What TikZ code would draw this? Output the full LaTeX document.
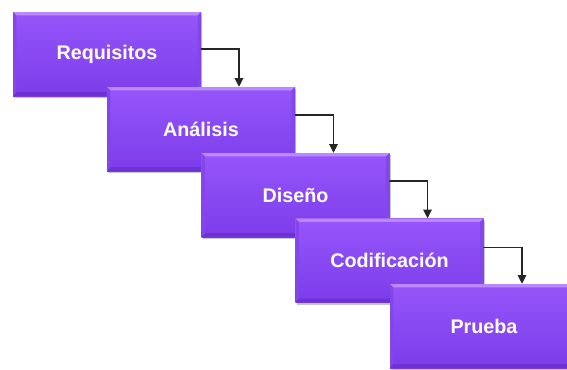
\documentclass[tikz,border=0pt]{standalone}
\usepackage{fontspec}
\setmainfont{Liberation Sans}
\usetikzlibrary{arrows.meta,shadows}

\definecolor{fasetop}{RGB}{150,86,250}
\definecolor{fasebottom}{RGB}{124,60,234}
\definecolor{faselight}{RGB}{188,136,255}
\definecolor{fasedark}{RGB}{110,50,212}
\definecolor{faseside}{RGB}{132,70,234}

\begin{document}
\begin{tikzpicture}[x=0.75pt,y=-0.75pt,line cap=round]
  \tikzset{
    fase/.style={rectangle, minimum width=141pt, minimum height=63pt, inner sep=0pt,
      top color=fasetop, bottom color=fasebottom, text=white,
      font=\fontsize{14.8}{17}\selectfont\bfseries,
      drop shadow={shadow xshift=1pt, shadow yshift=-1.8pt, opacity=0.4, fill=black!55},
      path picture={
        \fill[faselight] (path picture bounding box.north west) -- (path picture bounding box.north east)
          -- ([xshift=-2.5pt,yshift=-2.5pt]path picture bounding box.north east)
          -- ([xshift=2.5pt,yshift=-2.5pt]path picture bounding box.north west) -- cycle;
        \fill[fasedark] (path picture bounding box.south west) -- (path picture bounding box.south east)
          -- ([xshift=-2.5pt,yshift=3pt]path picture bounding box.south east)
          -- ([xshift=2.5pt,yshift=3pt]path picture bounding box.south west) -- cycle;
        \fill[faseside] (path picture bounding box.north west)
          -- ([xshift=2.5pt,yshift=-2.5pt]path picture bounding box.north west)
          -- ([xshift=2.5pt,yshift=3pt]path picture bounding box.south west)
          -- (path picture bounding box.south west) -- cycle;
        \fill[faseside] (path picture bounding box.north east)
          -- ([xshift=-2.5pt,yshift=-2.5pt]path picture bounding box.north east)
          -- ([xshift=-2.5pt,yshift=3pt]path picture bounding box.south east)
          -- (path picture bounding box.south east) -- cycle;
      }},
    flecha/.style={-{Triangle[width=6.5pt,length=6.5pt]}, line width=0.8pt, black!85}
  }

  \path[use as bounding box, fill=white] (0,0) rectangle (567,369);

  % Fases
  \node[fase] (req) at (107,54) {Requisitos};
  \node[fase] (ana) at (201,129) {Análisis};
  \node[fase] (dis) at (295.5,195) {Diseño};
  \node[fase] (cod) at (389.5,260.5) {Codificación};
  \node[fase] (pru) at (484,326) {Prueba};

  % Flechas entre fases
  \draw[flecha] ([yshift=3.75pt]req.east) -| ([xshift=28.5pt]ana.north);
  \draw[flecha] ([yshift=10.5pt]ana.east) -| ([xshift=28.5pt]dis.north);
  \draw[flecha] ([yshift=10.5pt]dis.east) -| ([xshift=28.5pt]cod.north);
  \draw[flecha] ([yshift=10pt]cod.east) -| ([xshift=28.5pt]pru.north);
\end{tikzpicture}
\end{document}
